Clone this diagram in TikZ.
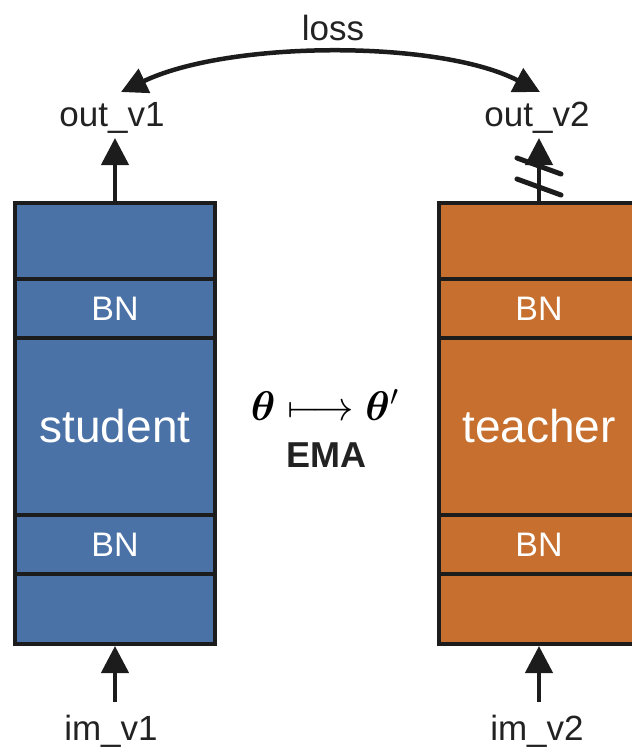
\documentclass[tikz,border=0pt]{standalone}
\usepackage{fontspec}
\setmainfont{Liberation Sans}
\usepackage{bm}
\usetikzlibrary{arrows.meta}
\definecolor{sblue}{HTML}{4A72A6}
\definecolor{torange}{HTML}{C66F2E}
\definecolor{edge}{HTML}{1C1C1C}
\definecolor{txt}{HTML}{222222}
\tikzset{
  rowbox/.style={draw=edge, line width=4pt, minimum width=200pt, inner sep=0pt, text=white, font=\fontsize{34}{40}\selectfont},
  srow/.style={rowbox, fill=sblue},
  trow/.style={rowbox, fill=torange},
  lbl/.style={text=txt, font=\fontsize{35}{40}\selectfont, inner sep=0pt},
  arr/.style={draw=edge, line width=4.5pt, -{Triangle[width=27pt,length=27pt]}},
  darr/.style={draw=edge, line width=4.5pt, {Triangle[width=26pt,length=26pt]}-{Triangle[width=26pt,length=26pt]}},
  slash/.style={draw=edge, line width=5pt, line cap=round}
}
\begin{document}
\begin{tikzpicture}[x=1pt,y=-1pt]
\useasboundingbox (0,0) rectangle (632,748);
\clip (0,0) rectangle (632,748);
% student column
\node[srow, minimum height=76pt] (s1) at (115,241) {};
\node[srow, minimum height=59pt] (s2) at (115,308.5) {BN};
\node[srow, minimum height=177pt, font=\fontsize{46}{50}\selectfont] (s3) at (115,426.5) {student};
\node[srow, minimum height=59pt] (s4) at (115,544.5) {BN};
\node[srow, minimum height=70pt] (s5) at (115,609) {};
% teacher column
\node[trow, minimum height=76pt] (t1) at (539,241) {};
\node[trow, minimum height=59pt] (t2) at (539,308.5) {BN};
\node[trow, minimum height=177pt, font=\fontsize{46}{50}\selectfont] (t3) at (539,426.5) {teacher};
\node[trow, minimum height=59pt] (t4) at (539,544.5) {BN};
\node[trow, minimum height=70pt] (t5) at (539,609) {};
% labels
\node[lbl, anchor=base] (outv1) at (112,126) {out\_v1};
\node[lbl, anchor=base] (outv2) at (537,126) {out\_v2};
\node[lbl, anchor=base] (imv1) at (111,740) {im\_v1};
\node[lbl, anchor=base] (imv2) at (537,740) {im\_v2};
\node[lbl, anchor=base] (loss) at (333,40) {loss};
\node[inner sep=0pt, scale=2, font=\fontsize{20}{24}\selectfont] (ema) at (325,405) {$\bm{\theta}\longmapsto\bm{\theta}'$};
\node[inner sep=0pt, text=txt, font=\fontsize{36}{40}\selectfont\bfseries] (emal) at (326,455) {EMA};
% coordinates
\coordinate (o1) at (115,138);
\coordinate (o2) at (539,138);
\coordinate (i1) at (115,702);
\coordinate (i2) at (539,702);
\coordinate (l1) at (121,92);
\coordinate (l2) at (540,92);
% connectors
\draw[arr] (s1.north) -- (o1);
\draw[arr] (t1.north) -- (o2);
\draw[arr] (i1) -- (s5.south);
\draw[arr] (i2) -- (t5.south);
\draw[darr] (l1) .. controls (230,40) and (440,40) .. (l2);
% stop marks
\draw[slash] ([shift={(-22,-8)}]o2 |- 0,166) -- ([shift={(22,8)}]o2 |- 0,166);
\draw[slash] ([shift={(-22,-8)}]o2 |- 0,187) -- ([shift={(22,8)}]o2 |- 0,187);
\end{tikzpicture}
\end{document}
